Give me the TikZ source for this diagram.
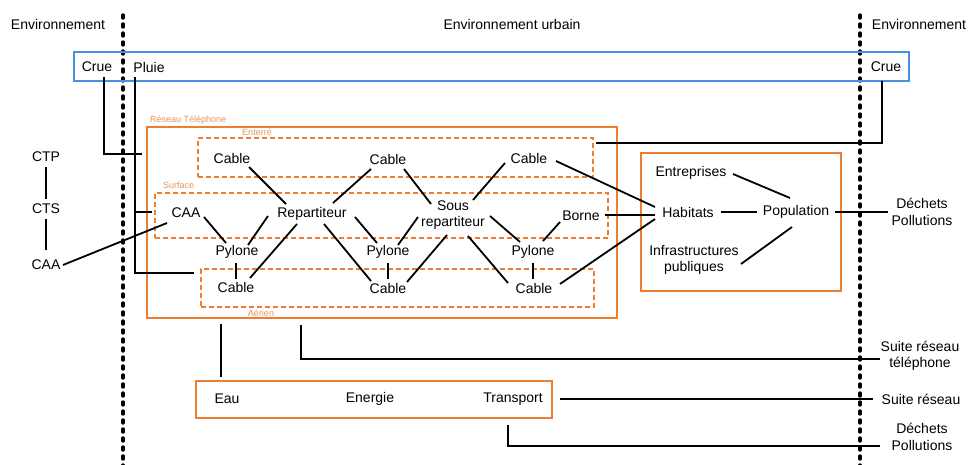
\documentclass[tikz,border=0pt]{standalone}
\usepackage{fontspec}
\setmainfont{Liberation Sans}
\usetikzlibrary{calc}
\definecolor{oblue}{HTML}{4A90E2}
\definecolor{orng}{HTML}{ED7D31}
\definecolor{lorng}{HTML}{E3965A}
\begin{document}
\begin{tikzpicture}[x=1pt,y=-1pt,
  txt/.style={font=\fontsize{14}{16.5}\selectfont, inner sep=2pt, align=center},
  small/.style={font=\fontsize{9}{10}\selectfont, text=lorng, inner sep=0pt},
  conn/.style={line width=1.8pt, black},
  bluebox/.style={draw=oblue, line width=2.8pt, inner sep=0pt},
  obox/.style={draw=orng, line width=2.6pt, inner sep=0pt},
  dbox/.style={draw=orng, line width=2.4pt, dash pattern=on 5pt off 3pt, inner sep=0pt},
  border/.style={line width=3.4pt, line cap=round, dash pattern=on 3pt off 6pt}]
\useasboundingbox (0,0) rectangle (970,465);
\fill[white] (0,0) rectangle (970,465);

% frontier lines
\draw[border] (123,15) -- (123,465);
\draw[border] (860,15) -- (860,465);

% boxes
\node[bluebox, minimum width=835, minimum height=29] (blue) at (491.5,66.5) {};
\node[obox, minimum width=470, minimum height=191] (reseau) at (382,222.5) {};
\node[dbox, minimum width=395, minimum height=39] (enterre) at (395.5,157.5) {};
\node[dbox, minimum width=453, minimum height=45] (surface) at (381.5,215.5) {};
\node[dbox, minimum width=393, minimum height=38] (aerien) at (397.5,288) {};
\node[obox, minimum width=200, minimum height=138] (social) at (741,222) {};
\node[obox, minimum width=356, minimum height=37] (infrab) at (374,399.5) {};

% small labels
\node[small, anchor=west] (lres) at (150,120) {Réseau Téléphone};
\node[small] (lent) at (257,132) {Enterré};
\node[small, anchor=west] (lsur) at (163,185) {Surface};
\node[small] (laer) at (261,313) {Aérien};

% texts
\node[txt] (envL) at (58,24) {Environnement};
\node[txt] (envU) at (512,24) {Environnement urbain};
\node[txt] (envR) at (919,24) {Environnement};
\node[txt] (crueL) at (97,67) {Crue};
\node[txt] (pluie) at (149,67) {Pluie};
\node[txt] (crueR) at (886,67) {Crue};
\node[txt] (ctp) at (46,157) {CTP};
\node[txt] (cts) at (46,209) {CTS};
\node[txt] (caaL) at (46,265) {CAA};
\node[txt] (ec1) at (232,158) {Cable};
\node[txt] (ec2) at (388,159) {Cable};
\node[txt] (ec3) at (529,158) {Cable};
\node[txt] (caa) at (186,213) {CAA};
\node[txt] (rep) at (312,214) {Repartiteur};
\node[txt] (srep) at (453,215) {Sous\\repartiteur};
\node[txt] (borne) at (581,216) {Borne};
\node[txt] (py1) at (237,252) {Pylone};
\node[txt] (py2) at (388,252) {Pylone};
\node[txt] (py3) at (533,252) {Pylone};
\node[txt] (ac1) at (236,287) {Cable};
\node[txt] (ac2) at (388,288) {Cable};
\node[txt] (ac3) at (534,288) {Cable};
\node[txt] (entr) at (691,173) {Entreprises};
\node[txt] (hab) at (688,212) {Habitats};
\node[txt] (pop) at (796,212) {Population};
\node[txt] (infra) at (694,260) {Infrastructures\\publiques};
\node[txt] (dech1) at (922,212) {Déchets\\Pollutions};
\node[txt] (eau) at (227,399) {Eau};
\node[txt] (energie) at (370,399) {Energie};
\node[txt] (transport) at (513,399) {Transport};
\node[txt] (suitetel) at (920,356) {Suite réseau\\téléphone};
\node[txt] (suite) at (921,399) {Suite réseau};
\node[txt] (dech2) at (922,437) {Déchets\\Pollutions};

% connectors
\draw[conn] ($(crueL)+(7,10)$) |- ($(reseau.north west)+(-4,28)$);
\draw[conn] ($(pluie)+(-14,10)$) |- ($(aerien.west)+(-6,-15)$);
\draw[conn] ($(surface.west)+(-20,-3.5)$) -- ($(surface.west)+(-2,-3.5)$);
\draw[conn] ($(crueR)+(-4,14)$) |- ($(enterre.east)+(2,-14.5)$);
\draw[conn] ($(ctp)+(0,10)$) -- ($(cts)+(0,-10)$);
\draw[conn] ($(cts)+(0,10)$) -- ($(caaL)+(0,-15)$);
\draw[conn] ($(caaL)+(17,0)$) -- ($(caa)+(-19,10)$);
\draw[conn] ($(ec1)+(17,9)$) -- ($(rep)+(-26,-10)$);
\draw[conn] ($(caa)+(18,4)$) -- ($(py1)+(-11,-9)$);
\draw[conn] ($(rep)+(-44,2)$) -- ($(py1)+(11,-7)$);
\draw[conn] ($(py1)+(-1,11)$) -- ($(ac1)+(0,-8)$);
\draw[conn] ($(rep)+(-15,10)$) -- ($(ac1)+(14,-9)$);
\draw[conn] ($(rep)+(21,-11)$) -- ($(ec2)+(-17,10)$);
\draw[conn] ($(rep)+(43,3)$) -- ($(py2)+(-11,-9)$);
\draw[conn] ($(rep)+(12,10)$) -- ($(ac2)+(-17,-7)$);
\draw[conn] ($(ec2)+(16,10)$) -- ($(srep)+(-22,-11)$);
\draw[conn] ($(srep)+(-35,2)$) -- ($(py2)+(10,-7)$);
\draw[conn] ($(py2)+(0,11)$) -- ($(ac2)+(0,-9)$);
\draw[conn] ($(srep)+(-6,20)$) -- ($(ac2)+(19,-6)$);
\draw[conn] ($(ec3)+(-24,5)$) -- ($(srep)+(20,-15)$);
\draw[conn] ($(srep)+(37,1)$) -- ($(py3)+(-13,-10)$);
\draw[conn] ($(srep)+(15,21)$) -- ($(ac3)+(-26,-5)$);
\draw[conn] ($(borne)+(-21,6)$) -- ($(py3)+(10,-11)$);
\draw[conn] ($(py3)+(0,11)$) -- ($(ac3)+(-1,-9)$);
\draw[conn] ($(ec3)+(27,3)$) -- ($(hab)+(-33,-5)$);
\draw[conn] ($(borne)+(24,-1)$) -- ($(hab)+(-33,3)$);
\draw[conn] ($(ac3)+(26,-4)$) -- ($(hab)+(-33,7)$);
\draw[conn] ($(hab)+(33,0)$) -- ($(pop)+(-39,0)$);
\draw[conn] ($(entr)+(42,1)$) -- ($(pop)+(-6,-14)$);
\draw[conn] ($(infra)+(47,4)$) -- ($(pop)+(-4,15)$);
\draw[conn] ($(pop)+(39,0)$) -- ($(dech1)+(-34,0)$);
\draw[conn] ($(eau)+(-6,-75)$) -- ($(eau)+(-6,-22)$);
\draw[conn] ($(reseau.south)+(-81,6)$) |- ($(suitetel)+(-40,3)$);
\draw[conn] ($(transport)+(47,0)$) -- ($(suite)+(-48,0)$);
\draw[conn] ($(transport)+(-5,26)$) |- ($(dech2)+(-42,9)$);
\end{tikzpicture}
\end{document}
